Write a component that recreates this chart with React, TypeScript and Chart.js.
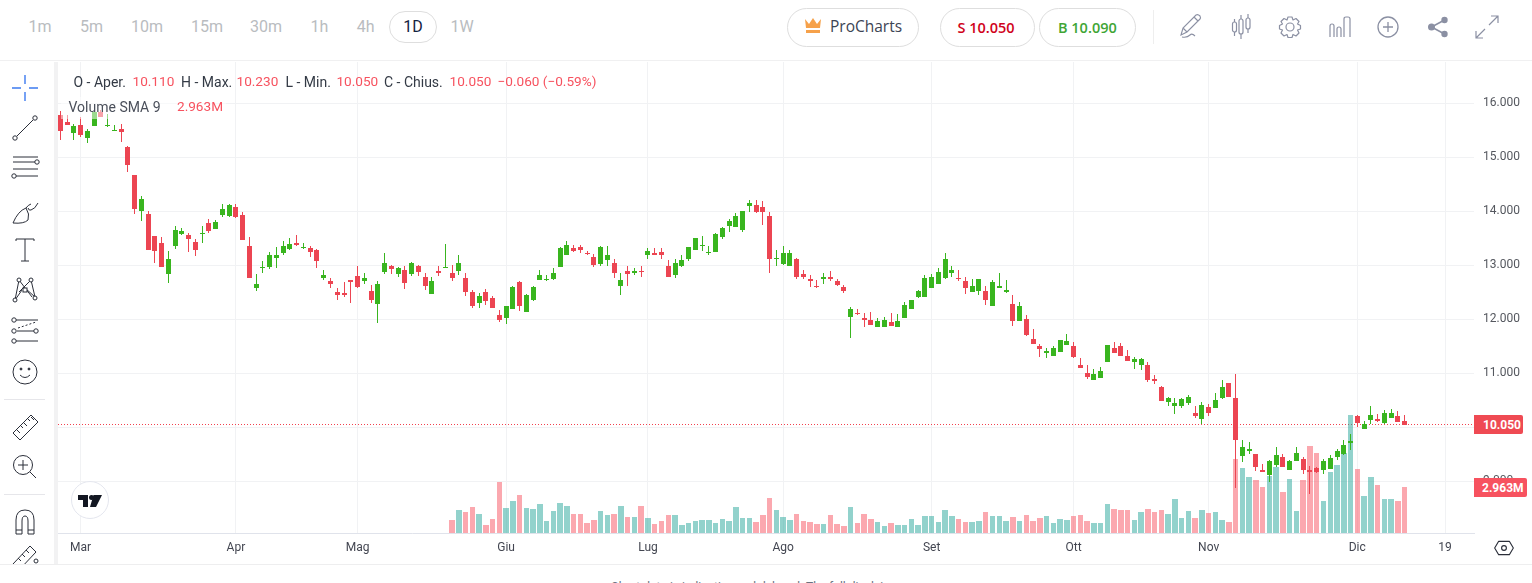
import React, { useEffect, useRef } from "react";
import { Chart, registerables } from "chart.js";

Chart.register(...registerables);

const opens = [
  15.78,15.65,15.45,15.60,15.36,15.58,15.84,15.58,15.49,15.52,
  15.19,14.67,14.01,13.95,13.54,13.41,12.84,13.36,13.58,13.56,
  13.43,13.58,13.78,13.67,13.93,13.91,14.08,13.93,13.36,12.58,
  12.94,12.97,13.14,13.23,13.30,13.41,13.32,13.32,13.29,12.77,
  12.71,12.51,12.49,12.73,12.80,12.71,12.53,12.29,12.88,12.99,
  12.84,12.91,12.84,12.99,12.79,12.47,12.90,12.95,12.86,12.90,
  12.77,12.51,12.30,12.51,12.40,12.08,12.03,12.18,12.68,12.14,
  12.35,12.72,12.72,12.74,12.96,13.18,13.31,13.33,13.23,13.16,
  13.03,13.09,13.05,12.61,12.90,12.86,12.90,13.18,13.23,13.25,
  12.99,12.81,12.99,13.11,13.29,13.36,13.23,13.25,13.53,13.72,
  13.70,13.66,14.10,14.12,14.07,13.92,13.11,13.03,12.98,13.12,
  12.83,12.75,12.62,12.74,12.79,12.70,12.59,12.05,12.12,12.03,
  11.98,11.85,11.85,11.94,11.85,12.03,12.18,12.42,12.42,12.57,
  12.66,12.77,12.85,12.77,12.70,12.51,12.53,12.53,12.25,12.57,
  12.51,12.29,11.96,12.01,11.64,11.51,11.38,11.32,11.40,11.52,
  11.51,11.15,11.01,10.88,10.91,11.21,11.47,11.51,11.32,11.21,
  11.15,11.15,10.90,10.75,10.47,10.40,10.40,10.45,10.27,10.16,
  10.38,10.36,10.54,10.82,10.54,9.47,9.56,9.51,9.21,9.12,
  9.30,9.45,9.21,9.38,9.41,9.21,9.25,9.21,9.23,9.45,
  9.51,9.71,10.21,9.97,10.14,10.16,10.08,10.17,10.21,10.11,
];

const closes = [
  15.48,15.60,15.58,15.41,15.49,15.84,15.75,15.60,15.51,15.47,
  14.86,14.04,14.23,13.29,13.27,12.97,13.12,13.66,13.64,13.49,
  13.29,13.60,13.64,13.80,14.04,14.12,13.90,13.47,12.77,12.66,
  12.97,13.19,13.19,13.36,13.40,13.38,13.34,13.25,13.08,12.82,
  12.66,12.45,12.45,12.69,12.60,12.77,12.36,12.66,13.04,12.93,
  12.95,12.67,13.04,12.88,12.62,12.71,12.86,12.97,12.77,13.04,
  12.51,12.25,12.43,12.34,12.21,11.99,12.25,12.59,12.24,12.44,
  12.59,12.81,12.74,12.85,13.31,13.38,13.27,13.29,13.20,13.01,
  13.33,13.18,12.85,12.72,12.83,12.90,12.88,13.27,13.18,13.18,
  12.79,13.05,13.09,13.33,13.51,13.38,13.25,13.57,13.68,13.81,
  13.92,14.01,14.16,13.98,13.98,13.11,13.14,13.22,13.22,12.79,
  12.79,12.70,12.61,12.79,12.74,12.64,12.53,12.18,12.11,11.98,
  11.90,11.96,11.99,11.88,11.96,12.27,12.36,12.53,12.77,12.79,
  12.88,13.12,12.92,12.75,12.57,12.62,12.74,12.36,12.68,12.61,
  12.55,11.96,12.25,11.71,11.54,11.45,11.41,11.47,11.62,11.60,
  11.30,11.10,10.93,10.99,11.04,11.52,11.38,11.32,11.23,11.27,
  11.27,10.88,10.86,10.49,10.54,10.45,10.53,10.56,10.21,10.41,
  10.27,10.51,10.75,10.56,9.77,9.64,9.60,9.27,9.17,9.38,
  9.49,9.27,9.38,9.53,9.21,9.17,9.17,9.38,9.43,9.56,
  9.67,9.75,10.08,10.06,10.23,10.12,10.27,10.27,10.10,10.05,
];

const highs = [
  15.86,15.78,15.62,15.74,15.52,15.84,15.87,15.80,15.59,15.62,
  15.21,14.67,14.28,14.01,13.54,13.52,13.27,13.73,13.69,13.60,
  13.49,13.73,13.86,13.84,14.14,14.14,14.14,13.99,13.53,12.84,
  13.08,13.25,13.34,13.45,13.51,13.56,13.41,13.36,13.30,12.91,
  12.77,12.58,12.69,12.73,12.99,12.86,12.64,12.71,13.23,13.01,
  12.97,12.99,13.06,13.01,12.86,12.79,12.99,13.40,13.01,13.19,
  12.86,12.54,12.49,12.56,12.43,12.17,12.25,12.61,12.70,12.46,
  12.62,12.92,12.81,12.94,13.33,13.44,13.38,13.38,13.27,13.20,
  13.36,13.35,13.11,12.85,12.98,12.94,12.98,13.31,13.31,13.31,
  13.09,13.11,13.18,13.33,13.51,13.55,13.36,13.59,13.70,13.85,
  13.96,14.01,14.20,14.20,14.18,13.99,13.29,13.36,13.29,13.14,
  12.92,12.81,12.72,12.85,12.90,12.75,12.64,12.22,12.18,12.12,
  12.14,12.03,12.05,12.11,12.09,12.31,12.36,12.55,12.81,12.83,
  12.94,13.23,12.99,12.92,12.79,12.75,12.74,12.62,12.72,12.86,
  12.72,12.44,12.31,12.08,11.82,11.54,11.47,11.51,11.62,11.73,
  11.58,11.28,11.15,11.08,11.12,11.52,11.58,11.56,11.43,11.30,
  11.28,11.21,10.97,10.77,10.56,10.54,10.54,10.60,10.40,10.47,
  10.43,10.64,10.88,10.82,10.99,9.77,9.73,9.51,9.32,9.40,
  9.64,9.51,9.40,9.64,9.45,9.29,9.27,9.41,9.49,9.60,
  9.77,9.88,10.23,10.12,10.40,10.25,10.32,10.34,10.30,10.23,
];

const lows = [
  15.32,15.60,15.32,15.38,15.27,15.58,15.75,15.56,15.49,15.28,
  14.73,13.95,13.82,13.29,13.04,12.97,12.67,13.30,13.56,13.25,
  13.17,13.41,13.60,13.67,13.90,13.90,13.88,13.47,12.77,12.53,
  12.86,12.93,12.95,13.19,13.29,13.36,13.30,13.16,12.95,12.73,
  12.58,12.36,12.42,12.30,12.58,12.66,12.30,11.93,12.84,12.84,
  12.79,12.56,12.80,12.80,12.54,12.47,12.80,12.95,12.71,12.82,
  12.43,12.21,12.21,12.27,12.21,11.95,11.92,12.18,12.16,12.14,
  12.33,12.72,12.70,12.72,12.96,13.18,13.25,13.23,13.18,12.96,
  12.98,12.98,12.77,12.44,12.61,12.81,12.79,13.11,13.18,13.12,
  12.79,12.77,12.96,13.07,13.29,13.27,13.18,13.25,13.48,13.61,
  13.70,13.62,13.99,13.96,13.75,12.86,12.99,13.01,12.98,12.74,
  12.74,12.59,12.57,12.66,12.70,12.61,12.48,11.66,12.07,11.85,
  11.90,11.85,11.85,11.87,11.85,12.03,12.18,12.40,12.42,12.57,
  12.66,12.74,12.79,12.70,12.46,12.51,12.44,12.27,12.24,12.57,
  12.48,11.88,11.96,11.69,11.54,11.30,11.28,11.32,11.40,11.52,
  11.28,11.10,10.90,10.88,10.91,11.21,11.38,11.32,11.23,11.08,
  11.06,10.84,10.80,10.49,10.40,10.25,10.36,10.41,10.17,10.06,
  10.21,10.36,10.53,10.56,8.88,9.36,9.51,9.19,9.17,8.99,
  9.27,9.27,9.21,9.38,9.14,8.77,9.16,9.14,9.23,9.40,
  9.49,9.58,10.01,9.97,10.06,10.10,10.06,10.17,10.10,10.05,
];

// Volume in millions; the feed starts at candle 58.
const volumeStart = 58;
const volumes = [
  0.85,1.49,1.36,1.68,1.24,0.53,0.92,3.28,1.62,2.07,
  2.45,1.62,1.56,1.88,0.79,1.43,1.94,1.75,1.24,1.24,
  0.66,0.85,1.43,1.17,1.24,1.75,1.04,1.04,1.75,0.98,
  0.60,0.79,1.17,1.17,0.53,0.66,0.79,0.85,0.85,0.66,
  0.92,0.79,1.68,0.98,0.98,0.72,1.17,2.26,1.49,1.04,
  0.85,1.24,0.79,0.72,0.60,0.60,1.17,0.60,0.47,1.68,
  0.66,1.24,0.92,0.72,0.47,0.66,0.53,0.53,0.92,0.53,
  1.11,1.11,0.72,1.49,1.11,0.90,0.70,0.70,0.77,1.34,
  1.09,1.11,0.79,1.04,0.79,1.17,0.79,0.98,1.11,0.66,
  0.92,0.85,1.11,1.17,0.79,0.66,0.66,1.88,1.56,1.49,
  1.49,0.85,1.36,1.56,1.36,1.49,1.24,2.20,0.98,1.43,
  0.98,1.49,1.30,1.36,0.85,0.72,4.75,4.18,3.60,3.41,
  2.96,3.67,4.24,2.64,3.47,1.43,3.41,5.59,5.14,2.07,
  3.92,4.37,5.14,7.57,4.11,2.39,3.60,3.09,2.20,2.20,
  2.07,2.963,
];

const monthIndices = [3, 26, 44, 66, 87, 107, 129, 150, 170, 192, 205];
const monthLabels = ["Mar", "Apr", "Mag", "Giu", "Lug", "Ago", "Set", "Ott", "Nov", "Dic", "19"];
const priceTicks = [9, 10, 11, 12, 13, 14, 15, 16];
const timeframes = ["1m", "5m", "10m", "15m", "30m", "1h", "4h", "1D", "1W"];

const UP = "#39b51f";
const DOWN = "#ec4552";
const VOL_UP = "rgba(38,166,154,0.5)";
const VOL_DOWN = "rgba(247,82,95,0.5)";
const GRID = "#f1f2f4";

const snapPlugin = {
  id: "snapCandles",
  afterDatasetsUpdate(chart: any) {
    chart.data.datasets.forEach((ds: any, i: number) => {
      if (ds.type !== "bar") return;
      chart.getDatasetMeta(i).data.forEach((el: any) => {
        if (ds.snapKind === "volume") {
          const l = Math.round(el.x - 2.75);
          const r = Math.round(el.x + 2.75);
          el.x = (l + r) / 2;
          el.width = r - l;
        } else {
          el.x = Math.round(el.x - 2.5) + 2.5;
        }
        const a = Math.round(el.y);
        let b = Math.round(el.base);
        if (a === b) b = a + 1;
        el.y = a;
        el.base = b;
      });
    });
  },
};

function ChartCanvas() {
  const ref = useRef<HTMLCanvasElement>(null);
  useEffect(() => {
    const xs = opens.map((_, i) => i);
    const isUp = (i: number) => closes[i] >= opens[i];
    const last = closes[closes.length - 1];
    const chart = new Chart(ref.current as HTMLCanvasElement, {
      type: "bar",
      plugins: [snapPlugin],
      data: {
        datasets: [
          {
            type: "bar",
            snapKind: "body",
            data: xs.map((i) => ({ x: i, y: [opens[i], closes[i]] })),
            backgroundColor: xs.map((i) => (isUp(i) ? UP : DOWN)),
            barThickness: 5,
            grouped: false,
            inflateAmount: 0,
            borderWidth: 0,
            order: 1,
            xAxisID: "x",
            yAxisID: "y",
          },
          {
            type: "bar",
            snapKind: "wick",
            data: xs.map((i) => ({ x: i, y: [lows[i], highs[i]] })),
            backgroundColor: xs.map((i) => (isUp(i) ? UP : DOWN)),
            barThickness: 1,
            grouped: false,
            inflateAmount: 0,
            borderWidth: 0,
            order: 2,
            xAxisID: "x",
            yAxisID: "y",
          },
          {
            type: "bar",
            snapKind: "volume",
            data: volumes.map((v, k) => ({ x: k + volumeStart, y: v })),
            backgroundColor: volumes.map((_, k) => (isUp(k + volumeStart) ? VOL_UP : VOL_DOWN)),
            barThickness: 5.5,
            grouped: false,
            inflateAmount: 0,
            borderWidth: 0,
            order: 3,
            xAxisID: "x",
            yAxisID: "yV",
          },
          {
            type: "line",
            data: [
              { x: -0.34, y: last },
              { x: 209.28, y: last },
            ],
            borderColor: "#f2414f",
            borderWidth: 1,
            borderDash: [1, 2],
            pointRadius: 0,
            order: 4,
            xAxisID: "x",
            yAxisID: "y",
          },
        ],
      } as any,
      options: {
        animation: false,
        responsive: false,
        devicePixelRatio: 1,
        layout: { padding: 0 },
        plugins: { legend: { display: false }, tooltip: { enabled: false } },
        scales: {
          x: {
            type: "linear",
            offset: false,
            min: -0.34,
            max: 209.28,
            afterBuildTicks: (s: any) => {
              s.ticks = monthIndices.map((value) => ({ value }));
            },
            afterFit: (s: any) => {
              s.height = 32;
              s.paddingLeft = 0;
              s.paddingRight = 0;
            },
            grid: { color: GRID, drawTicks: false, offset: false },
            border: { color: "#e0e3eb", width: 1 },
            ticks: {
              autoSkip: false,
              maxRotation: 0,
              padding: 8,
              color: "#434651",
              font: { family: "Roboto", size: 12 },
              callback: (v: any) => monthLabels[monthIndices.indexOf(Number(v))] ?? "",
            },
          },
          y: {
            type: "linear",
            position: "right",
            min: 8.0408,
            max: 16.763,
            afterBuildTicks: (s: any) => {
              s.ticks = priceTicks.map((value) => ({ value }));
            },
            afterFit: (s: any) => {
              s.width = 58;
              s.paddingTop = 0;
              s.paddingBottom = 0;
            },
            grid: { color: GRID, drawTicks: false },
            border: { display: false },
            ticks: {
              padding: 9,
              color: "#55585f",
              font: { family: "Roboto", size: 12 },
              callback: (v: any) => Number(v).toFixed(3),
            },
          },
          yV: { type: "linear", display: false, position: "right", min: 0, max: 30.14 },
        },
      } as any,
    });
    return () => chart.destroy();
  }, []);
  return (
    <canvas
      ref={ref}
      width={1474}
      height={503}
      style={{ position: "absolute", left: 58, top: 62, width: 1474, height: 503 }}
    />
  );
}

const Txt = ({ x, y, c, s = 13, w = 400, f = "Roboto", children, center }: any) => (
  <div
    style={{
      position: "absolute",
      left: x,
      top: y,
      transform: center ? "translate(-50%,-50%)" : "translateY(-50%)",
      color: c,
      fontSize: s,
      fontWeight: w,
      fontFamily: f,
      whiteSpace: "nowrap",
      lineHeight: 1,
    }}
  >
    {children}
  </div>
);

const Box = ({ x, y, w, h, bg, style }: any) => (
  <div style={{ position: "absolute", left: x, top: y, width: w, height: h, background: bg, ...style }} />
);

const Pill = ({ x, y, w, h }: any) => (
  <div
    style={{
      position: "absolute",
      left: x,
      top: y,
      width: w,
      height: h,
      boxSizing: "border-box",
      border: "1px solid #dedede",
      borderRadius: h / 2,
      background: "#fff",
    }}
  />
);

const Icon = ({ cx, cy, size = 30, stroke = "#2a2e39", sw = 1, children }: any) => (
  <svg
    width={size}
    height={size}
    viewBox="0 0 30 30"
    fill="none"
    stroke={stroke}
    strokeWidth={sw}
    style={{ position: "absolute", left: cx - size / 2, top: cy - size / 2 }}
  >
    {children}
  </svg>
);

const tfPos = [40, 91.5, 147, 207, 266, 319.5, 365.7, 413, 462];
const TOP_ICON = "#8b90a3";
const LABEL = "#333a45";
const VALUE = "#f7525f";

export default function App() {
  return (
    <div
      style={{
        position: "fixed",
        left: 0,
        top: 0,
        width: 1532,
        height: 583,
        overflow: "hidden",
        background: "#fff",
      }}
    >
      {/* top bar */}
      <Box x={0} y={60} w={1532} h={1} bg="#f0f0f1" />
      <Pill x={389} y={11} w={48} h={32} />
      {timeframes.map((t, i) => (
        <Txt key={t} x={tfPos[i]} y={26.5} c={t === "1D" ? "#14233f" : "#b9bcc0"} s={16} center>
          {t}
        </Txt>
      ))}
      <Pill x={787} y={8} w={132} h={39} />
      <svg width={18} height={16} viewBox="0 0 18 16" style={{ position: "absolute", left: 804, top: 18 }}>
        <path d="M1 1 L5 6 L9 0 L13 6 L17 1 L16 10 L2 10 Z M2 12 H16 V15 H2 Z" fill="#f6a14a" />
      </svg>
      <Txt x={830} y={27} c="#3c4454" s={15.5} f="Open Sans">ProCharts</Txt>
      <Pill x={940} y={8} w={95} h={39} />
      <Txt x={957.5} y={27.5} c="#d0021b" s={14.5} w={600} f="Open Sans">S 10.050</Txt>
      <Pill x={1039} y={8} w={97} h={39} />
      <Txt x={1058} y={27.5} c="#3fa535" s={14.5} w={600} f="Open Sans">B 10.090</Txt>
      <Box x={1153} y={10} w={1} h={34} bg="#eeeeee" />

      <Icon cx={1190} cy={26} stroke={TOP_ICON} sw={1.1}>
        <path d="M6 24 L8 17 L21 4 Q23 3 25 5 Q26 7 25 8 L12 21 Z M8 17 L12 21 M19 6 L23 10" />
        <path d="M7 26 Q12 27 15 24 Q17 22 20 25" />
      </Icon>
      <Icon cx={1241} cy={27} stroke={TOP_ICON} sw={1.2}>
        <rect x="6.5" y="10" width="4" height="10" rx="2" />
        <path d="M8.5 7 V10 M8.5 20 V24" />
        <rect x="13" y="7" width="4" height="15" rx="2" />
        <path d="M15 3 V7 M15 22 V27" />
        <rect x="20" y="6" width="4" height="11" rx="2" />
        <path d="M22 2 V6 M22 17 V21" />
      </Icon>
      <Icon cx={1290} cy={27} stroke={TOP_ICON} sw={1.2}>
        <circle cx="15" cy="15" r="4" />
        <path d="M13 5 H17 L18 8 L21 6.5 L24 9.5 L22.5 12 L25.5 13.5 V17 L22.5 18 L24 21 L21 24 L18 22.5 L17 25.5 H13 L12 22.5 L9 24 L6 21 L7.5 18 L4.5 17 V13.5 L7.5 12 L6 9.5 L9 6.5 L12 8 Z" strokeLinejoin="round" />
      </Icon>
      <Icon cx={1340} cy={27} stroke={TOP_ICON} sw={1.2}>
        <path d="M5 25 V14 Q5 12 7 12 Q9 12 9 14 V25 M12 25 V17 Q12 15 14 15 Q16 15 16 17 V25 M19 25 V7 Q19 5 21 5 H23 Q25 5 25 7 V25" />
      </Icon>
      <Icon cx={1388} cy={27} stroke={TOP_ICON} sw={1.3}>
        <circle cx="15" cy="15" r="10" />
        <path d="M10 15 H20 M15 10 V20" />
      </Icon>
      <Icon cx={1438} cy={27} stroke={TOP_ICON} sw={1.6}>
        <path d="M21.5 8 L8.5 15 L21.5 22" />
        <circle cx="21.5" cy="8" r="3.2" fill={TOP_ICON} stroke="none" />
        <circle cx="8.5" cy="15" r="3.5" fill={TOP_ICON} stroke="none" />
        <circle cx="21.5" cy="22" r="3.2" fill={TOP_ICON} stroke="none" />
      </Icon>
      <Icon cx={1487} cy={27} stroke={TOP_ICON} sw={1.2}>
        <path d="M17 13 L26 4 M19 4 H26 V11 M13 17 L4 26 M4 19 V26 H11" />
      </Icon>

      {/* left rail */}
      <Box x={54} y={62} w={4} h={502} bg="#f2f2f3" />
      <Box x={0} y={564} w={1532} h={1} bg="#eeeeef" />

      <ChartCanvas />

      {/* legend */}
      <Txt x={73.5} y={82} c={LABEL} s={14}>O - Aper.</Txt>
      <Txt x={132.5} y={82} c={VALUE} s={13.6}>10.110</Txt>
      <Txt x={181} y={82} c={LABEL} s={14}>H - Max.</Txt>
      <Txt x={236.5} y={82} c={VALUE} s={13.6}>10.230</Txt>
      <Txt x={285.5} y={82} c={LABEL} s={14}>L - Min.</Txt>
      <Txt x={336.4} y={82} c={VALUE} s={13.6}>10.050</Txt>
      <Txt x={384} y={82} c={LABEL} s={14}>C - Chius.</Txt>
      <Txt x={449.6} y={82} c={VALUE} s={13.6}>10.050</Txt>
      <Txt x={497.5} y={82} c={VALUE} s={13.6}>−0.060 (−0.59%)</Txt>
      <Box x={61} y={97} w={165} h={22} bg="rgba(255,255,255,0.5)" />
      <Txt x={68.5} y={107} c="#4a4f5a" s={14}>Volume SMA 9</Txt>
      <Txt x={177} y={107} c={VALUE} s={13.6}>2.963M</Txt>

      {/* price tags */}
      <Box x={1474} y={415} w={49} h={19} bg="#ef4a53" style={{ borderRadius: "0 2px 2px 0" }} />
      <Txt x={1483} y={424.5} c="#fff" s={12} w={700}>10.050</Txt>
      <Box x={1474} y={478} w={53} h={19} bg="#f7525f" style={{ borderRadius: "0 2px 2px 0" }} />
      <Txt x={1482} y={487.5} c="#fff" s={12} w={700}>2.963M</Txt>

      {/* logo */}
      <div
        style={{
          position: "absolute",
          left: 71,
          top: 481,
          width: 38,
          height: 38,
          boxSizing: "border-box",
          borderRadius: 19,
          border: "1px solid #e4e6ee",
          background: "#fff",
        }}
      />
      <svg width={24} height={12} viewBox="0 0 24 12" style={{ position: "absolute", left: 78, top: 495 }}>
        <path d="M0 0 H10 V12 H5 V5 H0 Z M15.5 0 H24 L18 12 H12 Z" fill="#131722" />
        <circle cx="13.5" cy="2.5" r="2.5" fill="#131722" />
      </svg>

      {/* settings */}
      <Icon cx={1504} cy={548} size={20} stroke="#2a2e39" sw={1.7}>
        <path d="M7 5 H23 L29 15 L23 25 H7 L1 15 Z" strokeLinejoin="round" />
        <circle cx="15" cy="15" r="3.6" />
      </Icon>

      {/* drawing tools */}
      <Icon cx={25} cy={88}>
        <g stroke="#3d7bf0" strokeWidth="1.4">
          <path d="M15 2 V11 M15 19 V28 M2 15 H11 M19 15 H28" />
        </g>
      </Icon>
      <Icon cx={25} cy={128}>
        <path d="M7 23 L23 7" />
        <circle cx="5" cy="25" r="2.2" fill="#fff" />
        <circle cx="25" cy="5" r="2.2" fill="#fff" />
      </Icon>
      <Icon cx={25} cy={168}>
        <path d="M3 4 H28 M3 9 H25 M3 16 H28 M6 23 H28" />
        <circle cx="27" cy="9" r="2.2" fill="#fff" />
        <circle cx="4" cy="23" r="2.2" fill="#fff" />
      </Icon>
      <Icon cx={25} cy={212}>
        <path d="M3 26 Q8 14 16 11 Q20 17 18 23 Q14 27 3 26 Z M18 11 Q19 14 21 13 Q25 12 28 6 M16 11 Q18 8 21 7" />
      </Icon>
      <Icon cx={25} cy={250}>
        <path d="M6 6 V4 H24 V6 M15 4 V26 M11 26 H19" />
      </Icon>
      <Icon cx={25} cy={290}>
        <path d="M9 5 L5 25 M9 5 L22 22 M21 5 L9 17 M21 5 L25 22 M5 25 L12 15 M15 13 L25 22" />
        <rect x="13" y="13" width="4" height="4" fill="#fff" />
        <circle cx="9" cy="5" r="2" fill="#fff" />
        <circle cx="21" cy="5" r="2" fill="#fff" />
        <circle cx="5" cy="25" r="2" fill="#fff" />
        <circle cx="25" cy="23" r="2" fill="#fff" />
      </Icon>
      <Icon cx={25} cy={330}>
        <path d="M6 5 H28 M6 26 H28 M7 16 H28" />
        <path d="M8 13 L26 7" strokeDasharray="2 2" />
        <circle cx="4" cy="5" r="2.2" fill="#fff" />
        <circle cx="4" cy="16" r="2.2" fill="#fff" />
        <circle cx="4" cy="26" r="2.2" fill="#fff" />
        <circle cx="26" cy="16" r="2.2" fill="#fff" />
      </Icon>
      <Icon cx={25} cy={372}>
        <circle cx="15" cy="15" r="12" />
        <circle cx="11" cy="12" r="1" fill="#2a2e39" />
        <circle cx="19" cy="12" r="1" fill="#2a2e39" />
        <path d="M10 18 Q15 23 20 18" />
      </Icon>
      <Box x={4} y={399} w={41} h={1} bg="#e6e6ea" />
      <Icon cx={25} cy={427}>
        <path d="M3 21 L21 3 L28 10 L10 28 Z M7 18 L10 21 M11 14 L13 16 M14 11 L17 14 M18 7 L20 9 M21 5 L24 8" />
      </Icon>
      <Icon cx={24} cy={466}>
        <circle cx="14" cy="14" r="9.5" />
        <path d="M9 14 H19 M14 9 V19 M21 21 L27 27" />
      </Icon>
      <Box x={4} y={494} w={41} h={1} bg="#e6e6ea" />
      <Icon cx={25} cy={522}>
        <path d="M6 27 V13 Q6 3 15 3 Q24 3 24 13 V27 H18 V14 Q18 9 15 9 Q12 9 12 14 V27 Z M6 23 H12 M18 23 H24" />
      </Icon>
      <div style={{ position: "absolute", left: 0, top: 540, width: 50, height: 24, overflow: "hidden" }}>
        <Icon cx={25} cy={15}>
          <path d="M3 24 L20 6 L26 12 L10 29 M8 18 L11 21 M12 14 L15 17 M16 10 L19 13" />
          <circle cx="26" cy="21" r="2" fill="#fff" />
        </Icon>
      </div>

      {/* disclaimer, only its top shows */}
      <Txt x={611} y={586.5} c="#6b7280" s={12}>Chart data is indicative and delayed. The full disclaimer</Txt>
    </div>
  );
}
